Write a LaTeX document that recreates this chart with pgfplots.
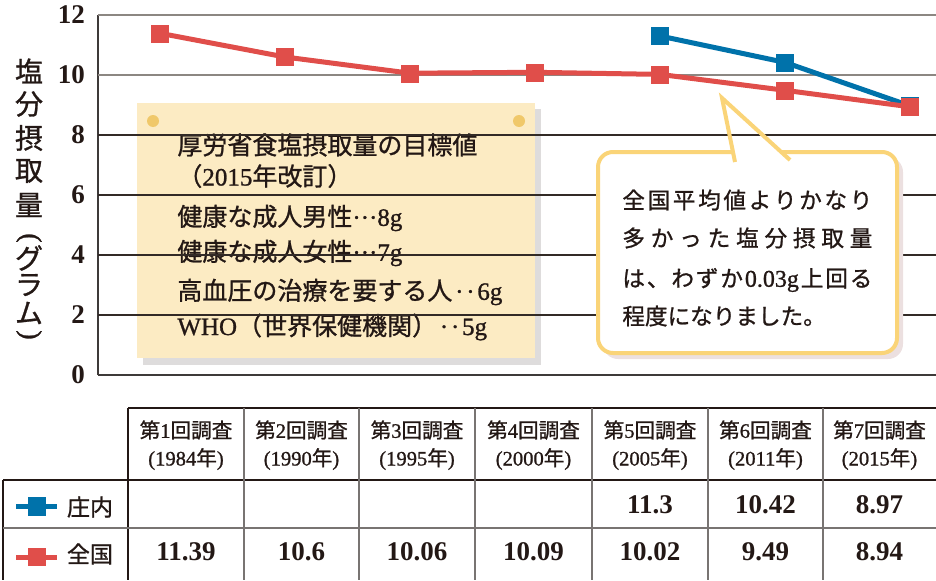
\documentclass[border=0pt]{standalone}
\usepackage{pgfplots}
\pgfplotsset{compat=1.18}
\usepackage{fontspec}
\setmainfont{Liberation Serif}
\newfontfamily\lat{Liberation Serif}[FakeBold=1]
\newfontfamily\cjk{Noto Sans CJK JP}[FakeBold=1]
\definecolor{redC}{RGB}{224,78,74}
\definecolor{blueC}{RGB}{0,114,170}
\definecolor{noteyellow}{RGB}{252,235,195}
\definecolor{noteshadow}{RGB}{222,220,220}
\definecolor{dotyellow}{RGB}{240,200,106}
\definecolor{callborder}{RGB}{250,212,120}
\definecolor{callshadow}{RGB}{236,224,224}
\definecolor{textdark}{RGB}{35,24,21}
\definecolor{axisdark}{RGB}{62,58,57}
\definecolor{griddark}{RGB}{50,42,38}
\definecolor{gridgray}{RGB}{140,135,130}
\definecolor{tabgray}{RGB}{120,116,114}
\newcommand\spreadbox[2]{\makebox[#1][s]{#2}}
\newcommand\threedots{\makebox[1em][s]{\lat\hfill ·\hfill ·\hfill ·\hfill}}
\newcommand\twodots{\makebox[1em][s]{\lat\hfill ·\hfill ·\hfill}}
\begin{document}
\begin{tikzpicture}[x=0.5pt,y=0.5pt, t/.style={inner sep=0pt, text=textdark}]
\path[use as bounding box] (0,0) rectangle (936,580);
% note box (under the grid)
\fill[noteshadow] (143,215) rectangle (541,471);
\fill[noteyellow] (137,222) rectangle (535,477);
\fill[dotyellow] (153,459) circle[radius=3pt];
\fill[dotyellow] (519,459) circle[radius=3pt];
\begin{scope}[every node/.style={t, anchor=west, font=\lat\fontsize{12.5}{15}\selectfont}]
\node at (177,435) {{\cjk 厚労省食塩摂取量の目標値}};
\node at (177,404) {{\cjk （}2015{\cjk 年改訂）}};
\node at (177,362) {{\cjk 健康な成人男性}\threedots 8g};
\node at (177,327) {{\cjk 健康な成人女性}\threedots 7g};
\node at (177,288) {{\cjk 高血圧の治療を要する人}\twodots 6g};
\node at (177,253) {WHO{\cjk （世界保健機関）}\twodots 5g};
\end{scope}
\begin{axis}[
  at={(49pt,102.5pt)}, anchor=south west, scale only axis,
  width=419pt, height=180pt,
  xmin=-0.496, xmax=6.208, ymin=0, ymax=12,
  axis x line*=bottom, axis y line*=left,
  axis line style={line width=1pt, color=axisdark},
  xtick=\empty, ytick={0,2,4,6,8,10,12},
  major tick length=0pt,
  /pgf/number format/assume math mode=true,
  yticklabel style={font=\fontsize{13.5}{14}\selectfont\bfseries, text=textdark, xshift=-3pt},
  clip=false,
]
\draw[griddark, line width=0.6pt] (axis cs:-0.496,2) -- (axis cs:6.208,2);
\draw[griddark, line width=0.6pt] (axis cs:-0.496,4) -- (axis cs:6.208,4);
\draw[griddark, line width=0.6pt] (axis cs:-0.496,6) -- (axis cs:6.208,6);
\draw[griddark, line width=0.6pt] (axis cs:-0.496,8) -- (axis cs:6.208,8);
\draw[gridgray, line width=1pt] (axis cs:-0.496,10) -- (axis cs:6.208,10);
\draw[gridgray, line width=1pt] (axis cs:-0.496,12) -- (axis cs:6.208,12);
\addplot[blueC, line width=2.5pt, mark=square*, mark size=4.25pt, mark options={line width=0.1pt}]
  coordinates {(4,11.3) (5,10.42) (6,8.97)};
\addplot[redC, line width=2.5pt, mark=square*, mark size=4.25pt, mark options={line width=0.1pt}]
  coordinates {(0,11.39) (1,10.6) (2,10.06) (3,10.09) (4,10.02) (5,9.49) (6,8.94)};
\end{axis}
% callout
\fill[callshadow, rounded corners=7.5pt] (603,221) rectangle (903,423);
\fill[white, rounded corners=7.5pt] (598,227) rectangle (897,428);
\draw[callborder, line width=2pt, rounded corners=7.5pt] (782,428) -- (897,428) -- (897,227) -- (598,227) -- (598,428) -- (733,428);
\draw[callborder, line width=2pt, line join=miter] (735,418) -- (722,482) -- (790,420);
\begin{scope}[every node/.style={t, anchor=west, font=\lat\fontsize{11.3}{13}\selectfont}]
\node at (622,380) {\spreadbox{125pt}{\cjk 全\hfill 国\hfill 平\hfill 均\hfill 値\hfill よ\hfill り\hfill か\hfill な\hfill り}};
\node at (622,342) {\spreadbox{125pt}{\cjk 多\hfill か\hfill っ\hfill た\hfill 塩\hfill 分\hfill 摂\hfill 取\hfill 量}};
\node at (622,300) {\spreadbox{125pt}{{\cjk は\hfill 、\hfill わ\hfill ず\hfill か}\hfill {\fontsize{12}{13}\selectfont 0.03g}\hfill{\cjk 上\hfill 回\hfill る}}};
\node at (622,264) {{\cjk 程度になりました。}};
\end{scope}
% y label
\begin{scope}[every node/.style={t, font=\cjk\fontsize{14}{14}\selectfont}]
\node at (29,509) {塩};
\node at (29,476) {分};
\node at (29,442) {摂};
\node at (29,409) {取};
\node at (29,375) {量};
\node[rotate=-90, font=\lat\fontsize{14}{14}\selectfont] at (29,342) {(};
\node at (29,322) {グ};
\node at (29,295) {ラ};
\node at (29,267) {ム};
\node[rotate=-90, font=\lat\fontsize{14}{14}\selectfont] at (29,245) {)};
\end{scope}
% table lines
\draw[textdark, line width=1.2pt] (128,172) -- (936,172);
\draw[textdark, line width=1.2pt] (128,172) -- (128,0);
\draw[textdark, line width=1.2pt] (3,100) -- (936,100);
\draw[textdark, line width=1.2pt] (3,100) -- (3,0);
\draw[tabgray, line width=0.8pt] (3,52) -- (936,52);
\foreach \xx in {244,359,475,592,708,823} \draw[tabgray, line width=0.6pt] (\xx,172) -- (\xx,0);
% header
\begin{scope}[every node/.style={t, font=\lat\fontsize{10.3}{12}\selectfont}]
\node at (186,150) {{\cjk 第}1{\cjk 回調査}};
\node at (301.5,150) {{\cjk 第}2{\cjk 回調査}};
\node at (417,150) {{\cjk 第}3{\cjk 回調査}};
\node at (533.5,150) {{\cjk 第}4{\cjk 回調査}};
\node at (650,150) {{\cjk 第}5{\cjk 回調査}};
\node at (765.5,150) {{\cjk 第}6{\cjk 回調査}};
\node at (879.5,150) {{\cjk 第}7{\cjk 回調査}};
\node at (186,121) {(1984{\cjk 年})};
\node at (301.5,121) {(1990{\cjk 年})};
\node at (417,121) {(1995{\cjk 年})};
\node at (533.5,121) {(2000{\cjk 年})};
\node at (650,121) {(2005{\cjk 年})};
\node at (765.5,121) {(2011{\cjk 年})};
\node at (879.5,121) {(2015{\cjk 年})};
\end{scope}
% values
\begin{scope}[every node/.style={t, font=\fontsize{13.5}{14}\selectfont\bfseries}]
\node at (650,75.5) {11.3};
\node at (765.5,75.5) {10.42};
\node at (879.5,75.5) {8.97};
\node at (186,28) {11.39};
\node at (301.5,28) {10.6};
\node at (417,28) {10.06};
\node at (533.5,28) {10.09};
\node at (650,28) {10.02};
\node at (765.5,28) {9.49};
\node at (879.5,28) {8.94};
\end{scope}
% row labels with legend symbols
\draw[blueC, line width=2.5pt] (16,74) -- (57,74);
\fill[blueC] (28,64) rectangle (46,83);
\draw[redC, line width=2.5pt] (16,23) -- (57,23);
\fill[redC] (28,14) rectangle (46,32);
\node[t, font=\cjk\fontsize{11.5}{13}\selectfont] at (90,73) {庄内};
\node[t, font=\cjk\fontsize{11.5}{13}\selectfont] at (90,26) {全国};
\end{tikzpicture}
\end{document}
